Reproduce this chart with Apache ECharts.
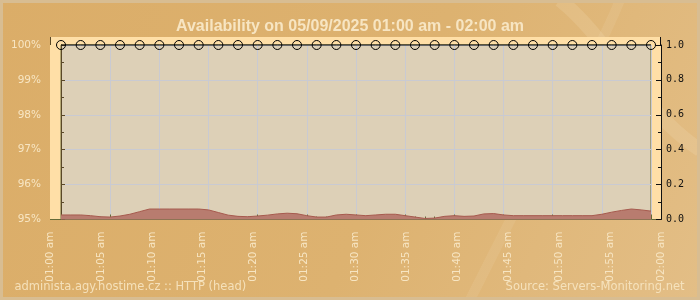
<!DOCTYPE html>
<html>
<head>
<meta charset="utf-8">
<script src="https://cdn.jsdelivr.net/npm/echarts@6/dist/echarts.min.js"></script>
<style>
html,body{margin:0;padding:0;background:#DCAF6B;}
#chart{width:700px;height:300px;}
</style>
</head>
<body>
<div id="chart"></div>
<script>
// ---- data ----
var titleText = 'Availability on 05/09/2025 01:00 am - 02:00 am';
var xLabels = ['01:00 am','01:05 am','01:10 am','01:15 am','01:20 am','01:25 am','01:30 am',
               '01:35 am','01:40 am','01:45 am','01:50 am','01:55 am','02:00 am'];
// availability checks (minute offset from 01:00, percent)
var checkMinutes = [0,2,4,6,8,10,12,14,16,18,20,22,24,26,28,30,32,34,36,38,40,42,44,46,48,50,52,54,56,58,60];
var availability = [100,100,100,100,100,100,100,100,100,100,100,100,100,100,100,100,100,100,100,100,100,100,100,100,100,100,100,100,100,100,100];
// response time per minute (right axis)
var responseTime = [0.026,0.026,0.026,0.022,0.016,0.014,0.020,0.030,0.045,0.060,
                    0.060,0.060,0.060,0.060,0.060,0.055,0.040,0.025,0.018,0.016,
                    0.020,0.025,0.032,0.036,0.033,0.022,0.014,0.014,0.026,0.030,
                    0.026,0.022,0.026,0.030,0.030,0.022,0.014,0.006,0.008,0.018,
                    0.022,0.018,0.020,0.032,0.034,0.026,0.022,0.022,0.022,0.022,
                    0.022,0.022,0.022,0.022,0.022,0.030,0.042,0.052,0.060,0.055,0.048];
var leftAxisLabelSuffix = '%';
var footerLeft = 'administa.agy.hostime.cz :: HTTP (head)';
var footerRight = 'Source: Servers-Monitoring.net';

var availData = checkMinutes.map(function(m,i){return [m, availability[i]];});
var respData = responseTime.map(function(v,i){return [i, v];});

var chart = echarts.init(document.getElementById('chart'), null, {renderer:'canvas'});
var cream = '#F7E5C2';
var option = {
  animation: false,
  backgroundColor: {
    type:'linear', x:0, y:0, x2:1, y2:1,
    colorStops:[{offset:0,color:'#DBAD68'},{offset:0.55,color:'#DDB270'},{offset:1,color:'#E3BE86'}]
  },
  title: {
    text: titleText, left: 'center', top: 14,
    textStyle: {fontFamily:'Liberation Sans', fontSize:16, fontWeight:'bold', color: cream}
  },
  grid: [{
    left: 61, right: 49, top: 45, bottom: 80.5,
    show: true, backgroundColor: '#DDD0B7', borderColor: '#6A6E3C', borderWidth: 1
  },{
    // label band: the tick labels are spread across the outer frame width
    left: 50, right: 39, top: 45, bottom: 80.5, show: false
  }],
  xAxis: [{
    type: 'value', min: 0, max: 60, interval: 5, gridIndex: 0,
    axisLine: {show:true, lineStyle:{color:'#646A38', width:1}},
    axisTick: {show:true, inside:true, length:5, lineStyle:{color:'#646A38'}},
    minorTick: {show:true, splitNumber:5, length:3, lineStyle:{color:'#646A38'}},
    splitLine: {show:true, lineStyle:{color:'#C9CAD2', width:1}},
    axisLabel: {show:false}
  },{
    type: 'value', min: 0, max: 60, interval: 5, gridIndex: 1,
    axisLine: {show:false}, axisTick: {show:false}, splitLine: {show:false},
    axisLabel: {
      rotate: 90, margin: 12, color: cream, fontFamily:'DejaVu Sans', fontSize: 10.5,
      formatter: function(v){ return xLabels[Math.round(v/5)] || ''; }
    }
  }],
  yAxis: [{
    type: 'value', min: 95, max: 100, interval: 1, position: 'left', offset: 11, gridIndex: 0,
    axisLine: {show:true, lineStyle:{color:'#5A4828', width:1}},
    axisTick: {show:true, inside:true, length:4, lineStyle:{color:'#5A4828'}},
    minorTick: {show:true, splitNumber:2, length:3, lineStyle:{color:'#5A4828'}},
    splitLine: {show:true, lineStyle:{color:'#C9CAD2', width:1}},
    axisLabel: {margin: 9, color: cream, fontFamily:'DejaVu Sans', fontSize: 10.5,
      formatter: function(v){ return v + leftAxisLabelSuffix; }}
  },{
    type: 'value', min: 0, max: 1, interval: 0.2, position: 'right', offset: 10, gridIndex: 0,
    axisLine: {show:true, lineStyle:{color:'#111111', width:1}},
    axisTick: {show:true, inside:true, length:5, lineStyle:{color:'#111111'}},
    minorTick: {show:true, splitNumber:2, length:3, lineStyle:{color:'#111111'}},
    splitLine: {show:false},
    axisLabel: {margin: 5, color: '#111111', fontFamily:'DejaVu Sans Mono', fontSize: 10,
      formatter: function(v){ return v.toFixed(1); }}
  },{
    type: 'value', gridIndex: 1, show: false, min: 0, max: 1
  }],
  series: [{
    type: 'line', xAxisIndex: 0, yAxisIndex: 1, data: respData, symbol: 'none',
    lineStyle: {color:'#A65A4E', width:1},
    areaStyle: {color:'#B87C6F', opacity:1},
    z: 2
  },{
    type: 'line', xAxisIndex: 0, yAxisIndex: 0, data: availData, clip: false,
    symbol: 'circle', symbolSize: 9,
    lineStyle: {color:'#000000', width:1},
    itemStyle: {color:'rgba(0,0,0,0)', borderColor:'#000000', borderWidth:1},
    z: 3
  }],
  graphic: [
    {type:'bezierCurve', z:-2, shape:{x1:560, y1:0, cpx1:610, cpy1:40, cpx2:640, cpy2:110, x2:700, y2:150},
      style:{stroke:'rgba(255,245,225,0.13)', lineWidth:14, fill:'none'}},
    {type:'bezierCurve', z:-2, shape:{x1:620, y1:0, cpx1:600, cpy1:50, cpx2:560, cpy2:120, x2:470, y2:300},
      style:{stroke:'rgba(255,245,225,0.09)', lineWidth:10, fill:'none'}},
    {type:'rect', z:-1, shape:{x:50, y:37, width:611, height:182.5}, style:{fill:'#FFDFA7'}},
    {type:'line', shape:{x1:50.5, y1:37, x2:50.5, y2:45}, style:{stroke:'#5A4828', lineWidth:1}},
    {type:'line', shape:{x1:660.5, y1:37, x2:660.5, y2:45}, style:{stroke:'#111111', lineWidth:1}},
    {type:'line', shape:{x1:50, y1:219.5, x2:661, y2:219.5}, style:{stroke:'#646A38', lineWidth:1}},
    {type:'text', x:14.5, y:287, style:{text:footerLeft, fill:cream, font:'11.5px "DejaVu Sans"', textAlign:'left', textVerticalAlign:'middle', opacity:0.9}},
    {type:'text', x:684.5, y:287, style:{text:footerRight, fill:cream, font:'11.5px "DejaVu Sans"', textAlign:'right', textVerticalAlign:'middle', opacity:0.9}},
    {type:'rect', shape:{x:1.5, y:1.5, width:697, height:297}, style:{fill:'none', stroke:'#D8BD92', lineWidth:3}}
  ]
};
chart.setOption(option);
</script>
</body>
</html>
